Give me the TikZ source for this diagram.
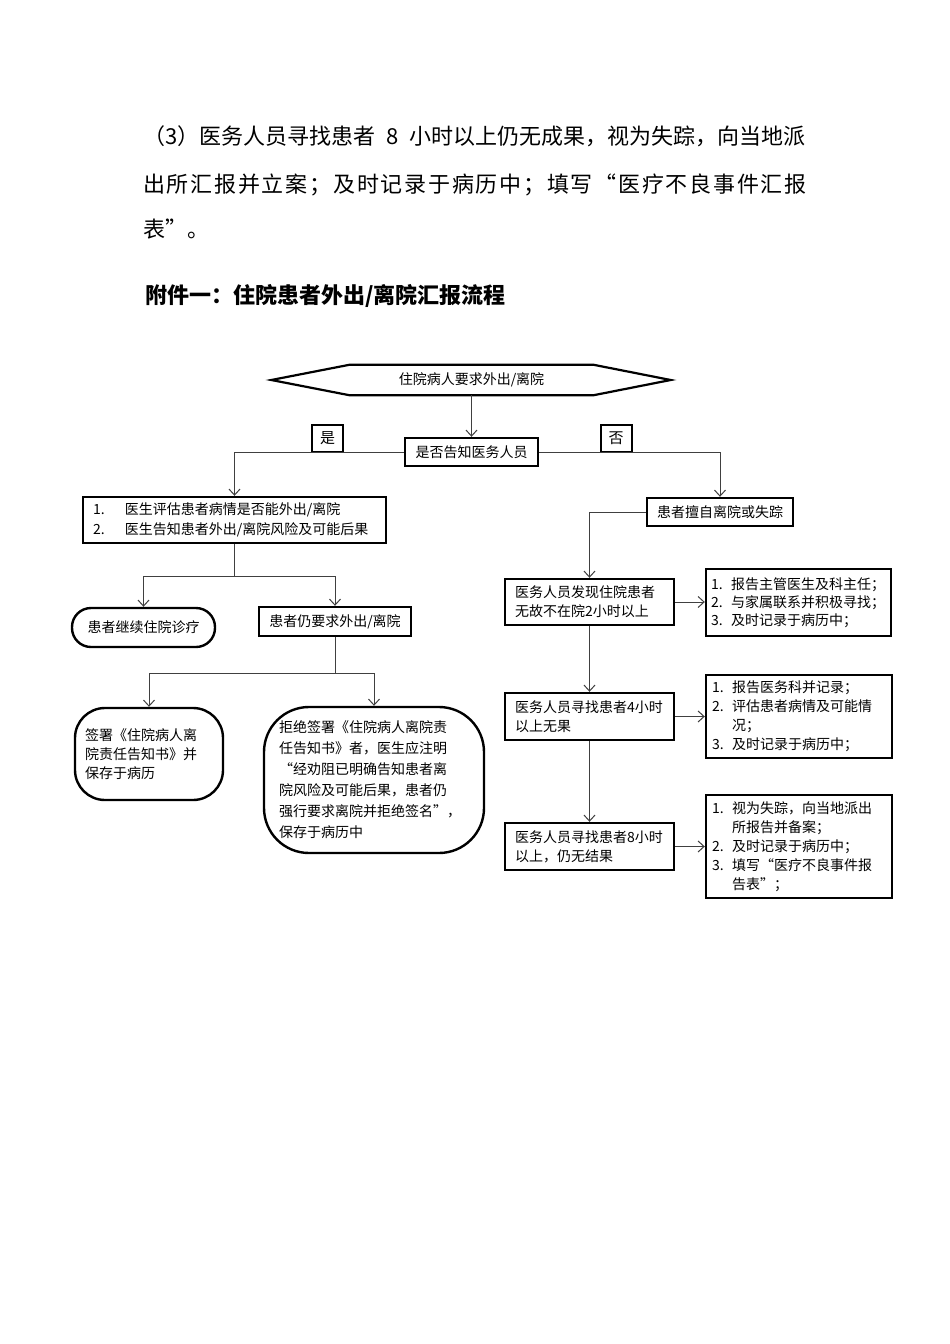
\documentclass[tikz,border=0pt]{standalone}
\usepackage{fontspec}
\setmainfont{Noto Sans CJK SC}
\newfontfamily\paraspread[LetterSpace=8]{Noto Sans CJK SC}
\usepackage{xcolor}
\definecolor{flowLine}{HTML}{404040}
\definecolor{flowEdge}{HTML}{000000}
\usetikzlibrary{arrows.meta,calc}
\tikzset{
  paratext/.style={anchor=west, inner sep=0pt, font=\fontsize{22}{26}\selectfont},
  flowbox/.style={draw=flowEdge, line width=2.4pt, inner sep=0pt, minimum height=28pt, font=\fontsize{14}{19}\selectfont},
  listbox/.style={flowbox, align=left, text width=#1, inner xsep=10pt},
  tagbox/.style={draw=flowEdge, line width=2pt, inner sep=0pt, minimum width=31pt, minimum height=27pt, font=\fontsize{15}{18}\selectfont},
  link/.style={draw=flowLine, line width=1pt, -{Straight Barb[length=6pt,width=11pt]}},
  plain/.style={draw=flowLine, line width=1pt},
}

\begin{document}
\begin{tikzpicture}[x=1pt, y=-1pt]
  \useasboundingbox (0,0) rectangle (950,1344);
  \fill[white] (0,0) rectangle (950,1344);
  \node[paratext] (para1) at (143,136) {\makebox[662pt][s]{（3）医务人员寻找患者 8 小时以上仍无成果，视为失踪，向当地派}};
  \node[paratext] (para2) at (143,185) {\paraspread 出所汇报并立案；及时记录于病历中；填写“医疗不良事件汇报};
  \node[paratext] (para3) at (143,229) {表”。};
  \node[paratext, font=\fontsize{22}{26}\selectfont\bfseries] (title) at (145,296) {附件一：住院患者外出/离院汇报流程};

  \node[flowbox, draw=none, minimum width=242pt] (start) at (471.5,380) {住院病人要求外出/离院};
  \draw[flowEdge, line width=2.2pt] (start.north west) -- (start.north east) -- ($(start.east)+(77,0)$) -- (start.south east) -- (start.south west) -- ($(start.west)+(-78,0)$) -- cycle;
  \node[flowbox, minimum width=133pt] (ask) at (471.5,452) {是否告知医务人员};
  \node[tagbox] (yes) at (327.5,438.5) {是};
  \node[tagbox] (no) at (616,438.5) {否};

  \node[listbox=283pt, minimum height=46pt, font=\fontsize{14}{20}\selectfont] (eval) at (234.5,520) {\makebox[32pt][l]{1.}医生评估患者病情是否能外出/离院\\\makebox[32pt][l]{2.}医生告知患者外出/离院风险及可能后果};
  \node[flowbox, rounded corners=19pt, minimum width=143pt, minimum height=39pt] (stay) at (143.5,627.5) {患者继续住院诊疗};
  \node[flowbox, minimum width=152pt, minimum height=29pt] (insist) at (335,621.5) {患者仍要求外出/离院};
  \node[listbox=128pt, rounded corners=30pt, minimum height=92pt] (sign) at (149,754) {签署《住院病人离\\院责任告知书》并\\保存于病历};
  \node[listbox=190pt, inner xsep=15pt, rounded corners=45pt, minimum height=146pt, font=\fontsize{14}{21}\selectfont] (refuse) at (374,780) {拒绝签署《住院病人离院责\\任告知书》者，医生应注明\\“经劝阻已明确告知患者离\\院风险及可能后果，患者仍\\强行要求离院并拒绝签名”，\\保存于病历中};

  \node[flowbox, minimum width=146pt] (leave) at (720,512) {患者擅自离院或失踪};
  \node[listbox=149pt, minimum height=46pt] (find2) at (589.5,602) {医务人员发现住院患者\\无故不在院2小时以上};
  \node[listbox=175pt, inner xsep=5pt, minimum height=67pt, font=\fontsize{14}{18}\selectfont] (act2) at (798.5,602.5) {\makebox[20pt][l]{1.}报告主管医生及科主任；\\\makebox[20pt][l]{2.}与家属联系并积极寻找；\\\makebox[20pt][l]{3.}及时记录于病历中；};
  \node[listbox=149pt, minimum height=47pt] (find4) at (589.5,716.5) {医务人员寻找患者4小时\\以上无果};
  \node[listbox=174pt, inner xsep=6pt, minimum height=83pt] (act4) at (799,716.5) {\makebox[20pt][l]{1.}报告医务科并记录；\\\makebox[20pt][l]{2.}评估患者病情及可能情\\\hspace*{20pt}况；\\\makebox[20pt][l]{3.}及时记录于病历中；};
  \node[listbox=149pt, minimum height=47pt] (find8) at (589.5,846.5) {医务人员寻找患者8小时\\以上，仍无结果};
  \node[listbox=174pt, inner xsep=6pt, minimum height=103pt] (act8) at (799,846.5) {\makebox[20pt][l]{1.}视为失踪，向当地派出\\\hspace*{20pt}所报告并备案；\\\makebox[20pt][l]{2.}及时记录于病历中；\\\makebox[20pt][l]{3.}填写“医疗不良事件报\\\hspace*{20pt}告表”；};

  \draw[link] (start.south) -- (ask.north);
  \draw[link] (ask.west) -| (eval.north);
  \draw[link] (ask.east) -| (leave.north);
  \draw[plain] (eval.south) -- ++(0,32) coordinate (evalfork);
  \draw[link] (evalfork) -| (stay.north);
  \draw[link] (evalfork) -| (insist.north);
  \draw[plain] (insist.south) -- ++(0,36) coordinate (insistfork);
  \draw[link] (insistfork) -| (sign.north);
  \draw[link] (insistfork) -| (refuse.north);
  \draw[link] (leave.west) -| (find2.north);
  \draw[link] (find2.east) -- (find2.east -| act2.west);
  \draw[link] (find2.south) -- (find4.north);
  \draw[link] (find4.east) -- (act4.west);
  \draw[link] (find4.south) -- (find8.north);
  \draw[link] (find8.east) -- (act8.west);
\end{tikzpicture}
\end{document}
